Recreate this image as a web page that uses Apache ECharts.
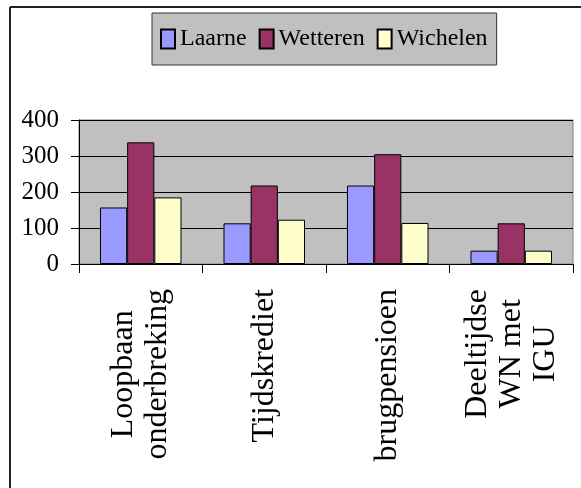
<!DOCTYPE html>
<html>
<head>
<meta charset="utf-8">
<script src="https://cdn.jsdelivr.net/npm/echarts@6/dist/echarts.min.js"></script>
<style>
html,body{margin:0;padding:0;background:#fff;}
#c{width:581px;height:488px;}
</style>
</head>
<body>
<div id="c"></div>
<script>
var categories = ['Loopbaan\nonderbreking', 'Tijdskrediet', 'brugpensioen', 'Deeltijdse\nWN met\nIGU'];
var seriesNames = ['Laarne', 'Wetteren', 'Wichelen'];
var laarne = [157, 113, 218, 37];
var wetteren = [338, 218, 305, 113];
var wichelen = [185, 123, 114, 37];
var yTicks = [0, 100, 200, 300, 400];

var colors = ['#9999FF', '#993366', '#FFFFCC'];
var serif = 'Liberation Serif';

var chart = echarts.init(document.getElementById('c'), null, {renderer: 'canvas'});

function mkSeries(name, data, color) {
  return {
    name: name,
    type: 'bar',
    data: data,
    barGap: '0%',
    barCategoryGap: '34%',
    itemStyle: {color: color, borderColor: '#000', borderWidth: 1},
    emphasis: {disabled: true}
  };
}

chart.setOption({
  animation: false,
  backgroundColor: '#fff',
  textStyle: {fontFamily: serif},
  graphic: [
    {type: 'line', shape: {x1: 10, y1: 7, x2: 581, y2: 7}, style: {stroke: '#222', lineWidth: 2}},
    {type: 'line', shape: {x1: 10, y1: 7, x2: 10, y2: 488}, style: {stroke: '#222', lineWidth: 2}}
  ],
  legend: {
    left: 152,
    top: 13,
    orient: 'horizontal',
    data: seriesNames,
    backgroundColor: '#C0C0C0',
    borderColor: '#333',
    borderWidth: 1,
    padding: [14, 9, 14, 8],
    itemWidth: 14,
    itemHeight: 19,
    itemGap: 12,
    icon: 'rect',
    formatter: function (n) { return '{t|' + n + '}'; },
    textStyle: {
      fontFamily: serif, fontSize: 24, color: '#000',
      rich: {t: {fontFamily: serif, fontSize: 24, color: '#000'}}
    }
  },
  grid: {
    left: 79,
    top: 120,
    right: 8,
    bottom: 224,
    show: true,
    backgroundColor: '#C0C0C0',
    borderColor: '#808080',
    borderWidth: 1
  },
  xAxis: {
    type: 'category',
    data: categories,
    boundaryGap: true,
    axisLine: {show: true, lineStyle: {color: '#000', width: 1}},
    axisTick: {show: true, length: 9, interval: 0, lineStyle: {color: '#000'}},
    axisLabel: {
      interval: 0,
      rotate: 90,
      margin: 25,
      color: '#000',
      fontFamily: serif,
      fontSize: 32,
      lineHeight: 34,
      formatter: function (v) {
        return v.split('\n').map(function (s) { return '{c|' + s + '}'; }).join('\n');
      },
      rich: {
        c: {align: 'center', fontFamily: serif, fontSize: 32, lineHeight: 34, color: '#000'}
      }
    },
    splitLine: {show: false}
  },
  yAxis: {
    type: 'value',
    min: yTicks[0],
    max: yTicks[yTicks.length - 1],
    interval: 100,
    axisLine: {show: true, lineStyle: {color: '#000', width: 1}},
    axisTick: {show: true, length: 8, lineStyle: {color: '#000'}},
    axisLabel: {
      margin: 20, color: '#000', fontFamily: serif, fontSize: 25,
      formatter: function (v) { return '{y|' + v + '}'; },
      rich: {y: {fontFamily: serif, fontSize: 25, color: '#000'}}
    },
    splitLine: {show: true, lineStyle: {color: '#000', width: 1}}
  },
  series: [
    mkSeries(seriesNames[0], laarne, colors[0]),
    mkSeries(seriesNames[1], wetteren, colors[1]),
    mkSeries(seriesNames[2], wichelen, colors[2])
  ]
});
</script>
</body>
</html>
